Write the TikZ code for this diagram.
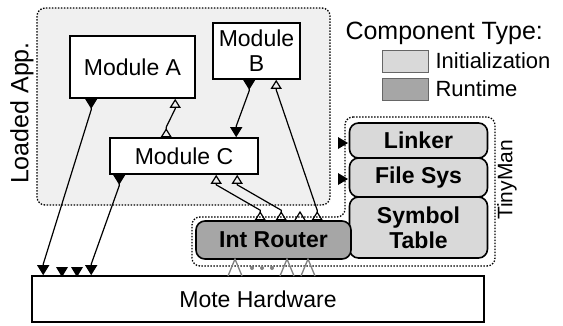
\documentclass[tikz,border=0pt]{standalone}
\usepackage{fontspec}
\setmainfont{Liberation Sans}
\usetikzlibrary{arrows.meta}

\definecolor{appgray}{HTML}{F0F0F0}
\definecolor{initgray}{HTML}{D9D9D9}
\definecolor{rungray}{HTML}{A6A6A6}

\tikzset{
  module/.style={draw, line width=1.6pt, fill=white, align=center, inner sep=0pt},
  tinybox/.style={draw, line width=1.6pt, rounded corners=9pt, fill=initgray,
    font=\fontsize{23}{25}\selectfont\bfseries, align=center, inner sep=0pt},
  swatch/.style={draw=gray!80!black, line width=1pt, minimum width=46pt, minimum height=22pt},
  uses/.style={line width=1.2pt,
    {Triangle[reversed,length=10pt,width=12pt]}-{Triangle[length=10pt,width=12pt]}},
  provides/.style={line width=1.2pt,
    {Triangle[open,reversed,length=9pt,width=11pt]}-{Triangle[open,length=9pt,width=11pt]}},
  region/.style={line width=1.3pt, dash pattern=on 1.5pt off 1.5pt, rounded corners=8pt},
}

\begin{document}
\begin{tikzpicture}[x=1pt, y=-1pt, font=\fontsize{23}{25}\selectfont]
  \useasboundingbox (0,0) rectangle (563,325);

  % loaded application
  \draw[region, fill=appgray] (37,8) rectangle (330,205);
  \node[rotate=90, font=\fontsize{25}{27}\selectfont] (app) at (22,113) {Loaded App.};

  \node[module, minimum width=125pt, minimum height=62pt] (moda) at (132.5,67) {Module A};
  \node[module, minimum width=87pt, minimum height=56pt] (modb) at (256.5,51) {Module\\B};
  \node[module, minimum width=148pt, minimum height=36pt] (modc) at (184,156) {Module C};

  % tinyman
  \draw[region] (345,117) -- (495,117) -- (495,266) -- (192,266) -- (192,217)
    -- (345,217) -- cycle;
  \node[rotate=90, font=\fontsize{21}{23}\selectfont] (tiny) at (507,180) {TinyMan};

  \node[tinybox, minimum width=138pt, minimum height=35pt] (linker) at (418.5,140.5) {Linker};
  \node[tinybox, minimum width=138pt, minimum height=39pt] (filesys) at (418.5,177.5) {File Sys};
  \node[tinybox, minimum width=138pt, minimum height=61pt] (symtab) at (418.5,227.5) {Symbol\\Table};
  \node[tinybox, fill=rungray, minimum width=155pt, minimum height=38pt] (router) at (273.5,240) {Int Router};

  \node[module, minimum width=452pt, minimum height=46pt] (hw) at (258,299) {Mote Hardware};

  % legend
  \node[anchor=west, font=\fontsize{25}{27}\selectfont] (legend) at (342,33) {Component Type:};
  \node[swatch, fill=initgray] (initbox) at (405,61) {};
  \node[swatch, fill=rungray] (runbox) at (405,89) {};
  \node[anchor=west, font=\fontsize{22}{24}\selectfont] (initlbl) at (432,61) {Initialization};
  \node[anchor=west, font=\fontsize{22}{24}\selectfont] (runlbl) at (432,89) {Runtime};

  % calls (tips stay upright: short vertical piece at each end)
  \draw[uses] ([xshift=22pt]moda.south west) -- ([xshift=22pt,yshift=-11pt]moda.south west)
    -- ([xshift=12pt,yshift=11pt]hw.north west) -- ([xshift=12pt]hw.north west);
  \draw[uses] ([xshift=10pt]modc.south west) -- ([xshift=10pt,yshift=-11pt]modc.south west)
    -- ([xshift=60pt,yshift=11pt]hw.north west) -- ([xshift=60pt]hw.north west);
  \draw[uses] ([xshift=37pt]modb.south west) -- ([xshift=37pt,yshift=-11pt]modb.south west)
    -- ([xshift=127pt,yshift=11pt]modc.north west) -- ([xshift=127pt]modc.north west);
  \foreach \x in {62,77}
    \fill (\x,277) -- ++(-6,-10) -- ++(12,0) -- cycle;

  % provides
  \draw[provides] ([xshift=57pt]modc.north west) -- ([xshift=57pt,yshift=10pt]modc.north west)
    -- ([xshift=106pt,yshift=-10pt]moda.south west) -- ([xshift=106pt]moda.south west);
  \draw[provides] ([xshift=65pt]router.north west) -- ([xshift=65pt,yshift=10pt]router.north west)
    -- ([xshift=107pt,yshift=-10pt]modc.south west) -- ([xshift=107pt]modc.south west);
  \draw[provides] ([xshift=86pt]router.north west) -- ([xshift=86pt,yshift=10pt]router.north west)
    -- ([xshift=128pt,yshift=-10pt]modc.south west) -- ([xshift=128pt]modc.south west);
  \draw[provides] ([xshift=122pt]router.north west) -- ([xshift=122pt,yshift=10pt]router.north west)
    -- ([xshift=64pt,yshift=-10pt]modb.south west) -- ([xshift=64pt]modb.south west);
  \draw[line width=1.2pt] (294.5,221) -- (300,212) -- (305.5,221) -- cycle;

  % interrupts
  \foreach \x in {235,287,308}
    \draw[gray, line width=1.3pt] (\x-7,276) -- (\x,259) -- (\x+7,276);
  \foreach \x in {252,262,272}
    \fill[gray] (\x,268) circle (2pt);
  \foreach \y in {143,179}
    \fill (348,\y) -- ++(-10,-6) -- ++(0,12) -- cycle;
\end{tikzpicture}
\end{document}
